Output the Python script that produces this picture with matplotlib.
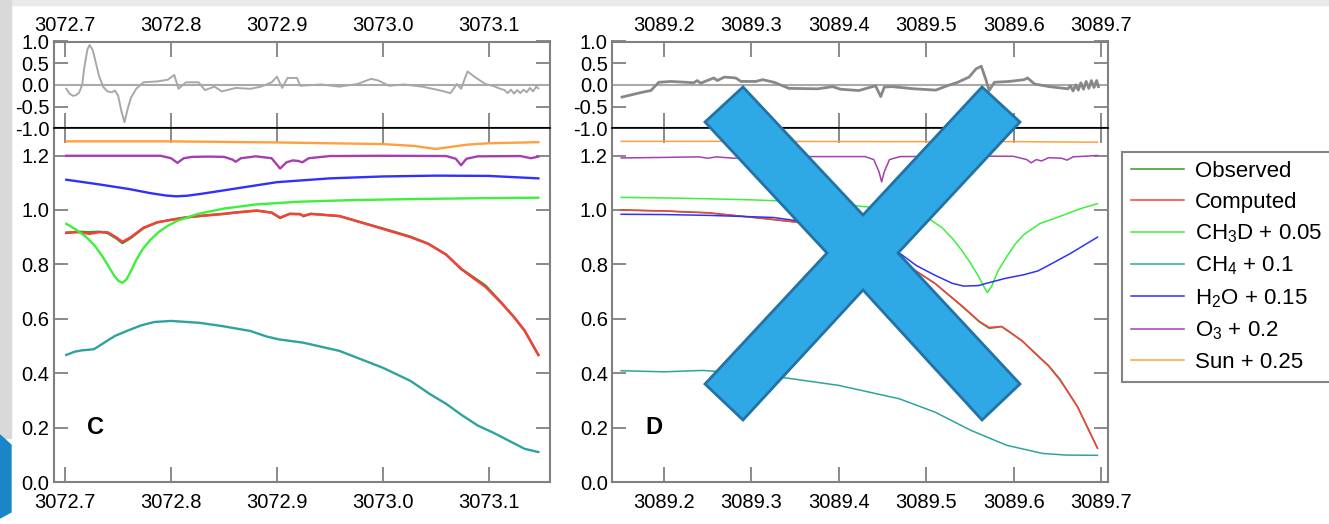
# Spectral fit panels C and D with residuals (slide screenshot look)
import matplotlib.pyplot as plt
from matplotlib.patches import Polygon, Rectangle

plt.rcParams['font.family'] = ['Liberation Sans', 'DejaVu Sans']
plt.rcParams['mathtext.fontset'] = 'custom'
plt.rcParams['mathtext.rm'] = 'Liberation Sans'
plt.rcParams['mathtext.it'] = 'Liberation Sans:italic'
plt.rcParams['axes.unicode_minus'] = False

# ---------------- panel C data ----------------
c_res_x = [3072.701, 3072.704, 3072.707, 3072.710, 3072.713, 3072.716, 3072.718, 3072.721,
           3072.723, 3072.726, 3072.729, 3072.732, 3072.736, 3072.740, 3072.744, 3072.747,
           3072.750, 3072.753, 3072.756, 3072.759, 3072.762, 3072.767, 3072.774, 3072.787,
           3072.797, 3072.803, 3072.807, 3072.814, 3072.826, 3072.832, 3072.841, 3072.848,
           3072.861, 3072.875, 3072.885, 3072.895, 3072.900, 3072.905, 3072.910, 3072.919,
           3072.922, 3072.942, 3072.959, 3072.976, 3072.989, 3072.996, 3073.006, 3073.020,
           3073.037, 3073.053, 3073.064, 3073.070, 3073.074, 3073.080, 3073.087, 3073.097,
           3073.105, 3073.110, 3073.115, 3073.118, 3073.121, 3073.124, 3073.127, 3073.130,
           3073.133, 3073.136, 3073.139, 3073.142, 3073.145, 3073.147]
c_res = [-0.09, -0.20, -0.25, -0.24, -0.18, 0.00, 0.40, 0.82,
         0.92, 0.80, 0.50, 0.20, -0.05, -0.15, -0.17, -0.13,
         -0.25, -0.60, -0.86, -0.55, -0.30, -0.09, 0.06, 0.08,
         0.12, 0.23, -0.09, 0.06, 0.06, -0.12, -0.04, -0.15,
         -0.07, -0.09, -0.04, 0.06, 0.19, -0.07, 0.16, 0.16,
         -0.02, 0.01, -0.04, 0.02, 0.14, 0.10, -0.02, 0.01,
         -0.04, -0.12, -0.19, 0.02, -0.09, 0.31, 0.18, 0.02,
         -0.03, -0.08, -0.12, -0.19, -0.11, -0.20, -0.12, -0.19,
         -0.11, -0.17, -0.07, -0.15, -0.04, -0.08]

c_x = [3072.701, 3072.712, 3072.723, 3072.732, 3072.740, 3072.748, 3072.754, 3072.762,
       3072.774, 3072.787, 3072.800, 3072.814, 3072.828, 3072.841, 3072.850, 3072.861,
       3072.881, 3072.895, 3072.903, 3072.912, 3072.922, 3072.925, 3072.932, 3072.959,
       3073.000, 3073.026, 3073.043, 3073.060, 3073.074, 3073.080, 3073.097, 3073.111,
       3073.124, 3073.134, 3073.147]
c_observed = [0.915, 0.920, 0.918, 0.920, 0.915, 0.896, 0.878, 0.897, 0.933, 0.954, 0.964,
              0.973, 0.978, 0.983, 0.986, 0.991, 0.998, 0.990, 0.970, 0.986, 0.985, 0.977,
              0.986, 0.977, 0.932, 0.902, 0.876, 0.836, 0.782, 0.768, 0.722, 0.664, 0.606,
              0.556, 0.467]
c_computed = [0.917, 0.918, 0.912, 0.918, 0.918, 0.900, 0.883, 0.900, 0.935, 0.955, 0.963,
              0.972, 0.978, 0.982, 0.985, 0.990, 0.997, 0.990, 0.972, 0.985, 0.984, 0.978,
              0.985, 0.978, 0.930, 0.900, 0.875, 0.835, 0.785, 0.765, 0.717, 0.662, 0.606,
              0.557, 0.467]

c_ch3d_x = [3072.701, 3072.710, 3072.720, 3072.728, 3072.735, 3072.741, 3072.746, 3072.750,
            3072.754, 3072.758, 3072.762, 3072.767, 3072.773, 3072.780, 3072.788, 3072.797,
            3072.806, 3072.825, 3072.850, 3072.880, 3072.920, 3072.970, 3073.030, 3073.090,
            3073.147]
c_ch3d = [0.949, 0.928, 0.900, 0.868, 0.830, 0.792, 0.760, 0.740, 0.732, 0.745, 0.775,
          0.815, 0.855, 0.888, 0.918, 0.942, 0.960, 0.985, 1.005, 1.020, 1.030, 1.036,
          1.040, 1.043, 1.045]

c_ch4_x = [3072.701, 3072.709, 3072.716, 3072.722, 3072.727, 3072.732, 3072.738, 3072.747,
           3072.760, 3072.772, 3072.784, 3072.800, 3072.827, 3072.850, 3072.875, 3072.890,
           3072.902, 3072.925, 3072.959, 3073.000, 3073.026, 3073.045, 3073.060, 3073.075,
           3073.090, 3073.105, 3073.120, 3073.134, 3073.147]
c_ch4 = [0.467, 0.479, 0.484, 0.486, 0.488, 0.500, 0.515, 0.537, 0.558, 0.576, 0.588,
         0.592, 0.585, 0.572, 0.555, 0.535, 0.524, 0.512, 0.482, 0.420, 0.372, 0.322,
         0.287, 0.245, 0.207, 0.180, 0.150, 0.122, 0.110]

c_h2o_x = [3072.701, 3072.730, 3072.760, 3072.780, 3072.795, 3072.805, 3072.815, 3072.830,
           3072.860, 3072.900, 3072.950, 3073.000, 3073.050, 3073.100, 3073.147]
c_h2o = [1.111, 1.095, 1.077, 1.062, 1.053, 1.050, 1.052, 1.060, 1.078, 1.102, 1.116,
         1.123, 1.126, 1.125, 1.116]

c_o3_x = [3072.701, 3072.790, 3072.800, 3072.806, 3072.812, 3072.820, 3072.835, 3072.850,
          3072.858, 3072.861, 3072.866, 3072.880, 3072.895, 3072.903, 3072.909, 3072.915,
          3072.920, 3072.924, 3072.930, 3072.950, 3073.000, 3073.060, 3073.069, 3073.074,
          3073.079, 3073.090, 3073.130, 3073.140, 3073.147]
c_o3 = [1.199, 1.199, 1.190, 1.173, 1.190, 1.195, 1.196, 1.195, 1.185, 1.177, 1.190,
        1.197, 1.190, 1.152, 1.175, 1.182, 1.180, 1.175, 1.190, 1.198, 1.199, 1.198,
        1.188, 1.164, 1.188, 1.197, 1.198, 1.190, 1.196]

c_sun_x = [3072.701, 3072.800, 3072.900, 3073.000, 3073.030, 3073.050, 3073.065, 3073.080,
           3073.100, 3073.147]
c_sun = [1.252, 1.252, 1.248, 1.242, 1.235, 1.224, 1.232, 1.240, 1.245, 1.249]

# ---------------- panel D data ----------------
d_res_x = [3089.152, 3089.175, 3089.185, 3089.194, 3089.208, 3089.234, 3089.238, 3089.242,
           3089.257, 3089.261, 3089.269, 3089.282, 3089.288, 3089.305, 3089.313, 3089.326,
           3089.343, 3089.376, 3089.393, 3089.402, 3089.423, 3089.442, 3089.448, 3089.452,
           3089.461, 3089.486, 3089.511, 3089.524, 3089.536, 3089.549, 3089.557, 3089.563,
           3089.568, 3089.572, 3089.578, 3089.595, 3089.612, 3089.616, 3089.624, 3089.641,
           3089.662, 3089.665, 3089.668, 3089.671, 3089.674, 3089.677, 3089.680, 3089.683,
           3089.686, 3089.689, 3089.692, 3089.695, 3089.697]
d_res = [-0.28, -0.17, -0.13, 0.06, 0.08, 0.05, 0.10, 0.04,
         0.16, 0.10, 0.18, 0.16, 0.08, 0.08, 0.12, 0.06,
         -0.08, -0.09, -0.04, -0.10, -0.13, -0.02, -0.27, -0.05,
         -0.04, -0.09, -0.12, -0.02, 0.06, 0.18, 0.37, 0.43,
         0.14, -0.13, 0.06, 0.08, 0.12, 0.16, 0.02, -0.04,
         -0.09, -0.02, -0.14, 0.00, -0.12, 0.05, -0.10, 0.08,
         -0.08, 0.10, -0.06, 0.10, -0.04]

d_x = [3089.151, 3089.180, 3089.203, 3089.218, 3089.250, 3089.285, 3089.320, 3089.352,
       3089.400, 3089.440, 3089.470, 3089.481, 3089.510, 3089.540, 3089.561, 3089.572,
       3089.580, 3089.586, 3089.592, 3089.610, 3089.624, 3089.640, 3089.653, 3089.673,
       3089.696]
d_observed = [1.000, 0.997, 0.996, 0.993, 0.989, 0.978, 0.966, 0.955, 0.920, 0.862, 0.815,
              0.790, 0.730, 0.648, 0.588, 0.565, 0.568, 0.571, 0.558, 0.518, 0.476, 0.428,
              0.378, 0.278, 0.124]
d_computed = [1.000, 0.998, 0.996, 0.994, 0.990, 0.978, 0.967, 0.955, 0.920, 0.860, 0.815,
              0.791, 0.730, 0.650, 0.590, 0.568, 0.570, 0.572, 0.560, 0.518, 0.474, 0.426,
              0.375, 0.277, 0.124]

d_ch3d_x = [3089.151, 3089.200, 3089.250, 3089.300, 3089.350, 3089.400, 3089.450, 3089.480,
            3089.502, 3089.518, 3089.530, 3089.541, 3089.551, 3089.560, 3089.566, 3089.570,
            3089.575, 3089.582, 3089.592, 3089.602, 3089.612, 3089.630, 3089.653, 3089.675,
            3089.696]
d_ch3d = [1.046, 1.044, 1.041, 1.037, 1.031, 1.022, 1.005, 0.990, 0.970, 0.935, 0.895,
          0.850, 0.803, 0.755, 0.718, 0.696, 0.720, 0.775, 0.828, 0.875, 0.910, 0.950,
          0.976, 1.003, 1.023]

d_ch4_x = [3089.151, 3089.200, 3089.244, 3089.290, 3089.334, 3089.400, 3089.469, 3089.510,
           3089.551, 3089.592, 3089.633, 3089.660, 3089.696]
d_ch4 = [0.409, 0.405, 0.410, 0.400, 0.385, 0.355, 0.306, 0.257, 0.190, 0.135, 0.105,
         0.099, 0.098]

d_h2o_x = [3089.151, 3089.200, 3089.250, 3089.300, 3089.326, 3089.352, 3089.400, 3089.440,
           3089.470, 3089.489, 3089.510, 3089.530, 3089.543, 3089.560, 3089.571, 3089.590,
           3089.612, 3089.628, 3089.645, 3089.665, 3089.696]
d_h2o = [0.984, 0.983, 0.980, 0.975, 0.972, 0.960, 0.930, 0.880, 0.840, 0.795, 0.760,
         0.730, 0.720, 0.722, 0.732, 0.748, 0.762, 0.776, 0.805, 0.840, 0.900]

d_o3_x = [3089.151, 3089.200, 3089.240, 3089.250, 3089.260, 3089.280, 3089.300, 3089.350,
          3089.430, 3089.440, 3089.446, 3089.449, 3089.452, 3089.458, 3089.470, 3089.550,
          3089.600, 3089.615, 3089.620, 3089.626, 3089.632, 3089.640, 3089.655, 3089.661,
          3089.668, 3089.696]
d_o3 = [1.191, 1.193, 1.195, 1.190, 1.195, 1.190, 1.195, 1.196, 1.196, 1.185, 1.140,
        1.103, 1.140, 1.185, 1.196, 1.198, 1.197, 1.185, 1.173, 1.185, 1.180, 1.192,
        1.190, 1.183, 1.195, 1.200]

d_sun_x = [3089.151, 3089.300, 3089.450, 3089.600, 3089.696]
d_sun = [1.252, 1.252, 1.251, 1.251, 1.249]

labels = ['Observed', 'Computed', 'CH$_3$D + 0.05', 'CH$_4$ + 0.1',
          'H$_2$O + 0.15', 'O$_3$ + 0.2', 'Sun + 0.25']
colors = ['#2f9a2f', '#ff3b3b', '#3cf03c', '#2ea39d', '#3030ff', '#a43fb0', '#ffa040']

# outline of the blue cross drawn over panel D (figure pixels, y from top)
cross_px = [(743, 87), (863, 215), (982, 87), (1020, 122), (898, 253), (1020, 384),
            (982, 420), (863, 290), (743, 420), (705, 384), (827, 253), (705, 122)]

W, H = 1329, 524
fig = plt.figure(figsize=(W / 100, H / 100), dpi=100)

# slide background bits
fig.patches.append(Rectangle((0, 1 - 5 / H), 1, 5 / H, transform=fig.transFigure,
                             color='#e9e9e9', zorder=0))
fig.patches.append(Rectangle((0, 1 - 438 / H), 11 / W, 438 / H, transform=fig.transFigure,
                             color='#d9d9d9', zorder=0))
fig.patches.append(Polygon([(0, 1 - 435 / H), (11 / W, 1 - 445 / H), (11 / W, 1 - 512 / H),
                            (0, 1 - 518 / H)], closed=True, transform=fig.transFigure,
                           color='#1a86c8', zorder=0))

gray = '#808080'
top_b, top_h = 1 - 128.3 / H, 86.8 / H
bot_b, bot_h = 1 - 482 / H, (482 - 128.3) / H


def make_panel(left, width, xlim, xticks, res_x, res, res_color, res_lw, lw, curves, letter):
    ax_r = fig.add_axes([left, top_b, width, top_h])
    ax_b = fig.add_axes([left, bot_b, width, bot_h])

    # residuals
    ax_r.axhline(0, color='#aaaaaa', lw=1.5)
    ax_r.plot(res_x, res, color=res_color, lw=res_lw)
    ax_r.set_ylim(-1, 1)
    ax_r.set_yticks([-1, -0.5, 0, 0.5, 1])
    ax_r.set_yticklabels(['-1.0', '-0.5', '0.0', '0.5', '1.0'])
    ax_r.set_xlim(xlim)
    ax_r.set_xticks(xticks)
    ax_r.set_xticklabels(['%.1f' % t for t in xticks])
    ax_r.tick_params(axis='x', direction='in', top=True, bottom=True, labeltop=True,
                     labelbottom=False, length=11, width=1.3, color=gray, pad=5,
                     labelsize=14.5)
    ax_r.tick_params(axis='y', direction='in', left=True, right=True, length=10, width=1.3,
                     color=gray, pad=3, labelsize=14.5)

    # spectra
    for (xs, ys), col in zip(curves, colors):
        ax_b.plot(xs, ys, color=col, lw=lw)
    ax_b.set_xlim(xlim)
    ax_b.set_ylim(0, 1.3)
    ax_b.set_yticks([0, 0.2, 0.4, 0.6, 0.8, 1.0, 1.2])
    ax_b.set_yticklabels(['0.0', '0.2', '0.4', '0.6', '0.8', '1.0', '1.2'])
    ax_b.set_xticks(xticks)
    ax_b.set_xticklabels(['%.1f' % t for t in xticks])
    ax_b.tick_params(axis='x', direction='in', top=True, bottom=True, length=11, width=1.3,
                     color=gray, pad=8, labelsize=14.5)
    ax_b.tick_params(axis='y', direction='in', left=True, right=True, length=10, width=1.3,
                     color=gray, pad=3, labelsize=14.5)
    ax_b.text(xlim[0] + 0.068 * (xlim[1] - xlim[0]), 0.2, letter, fontsize=17,
              fontweight='bold', va='center')

    for a in (ax_r, ax_b):
        for s in a.spines.values():
            s.set_color(gray)
            s.set_linewidth(1.5)
    ax_r.spines['bottom'].set_color('black')
    ax_b.spines['top'].set_color('black')
    ax_b.spines['top'].set_linewidth(1.2)
    return ax_b


c_curves = [(c_x, c_observed), (c_x, c_computed), (c_ch3d_x, c_ch3d), (c_ch4_x, c_ch4),
            (c_h2o_x, c_h2o), (c_o3_x, c_o3), (c_sun_x, c_sun)]
d_curves = [(d_x, d_observed), (d_x, d_computed), (d_ch3d_x, d_ch3d), (d_ch4_x, d_ch4),
            (d_h2o_x, d_h2o), (d_o3_x, d_o3), (d_sun_x, d_sun)]

make_panel(53.6 / W, (550 - 53.6) / W, (3072.689, 3073.158),
           [3072.7, 3072.8, 3072.9, 3073.0, 3073.1], c_res_x, c_res, '#a8a8a8', 1.4, 1.7,
           c_curves, 'C')
ax_d = make_panel(612 / W, (1108 - 612) / W, (3089.1405, 3089.708),
                  [3089.2, 3089.3, 3089.4, 3089.5, 3089.6, 3089.7], d_res_x, d_res,
                  '#888888', 2.0, 1.1, d_curves, 'D')

# legend box to the right
handles = ax_d.get_lines()
leg = fig.legend(handles, labels, loc='upper left', bbox_to_anchor=(1122 / W, 1 - 152 / H),
                 fontsize=16, frameon=True, fancybox=False, borderaxespad=0,
                 handlelength=2.4, handletextpad=0.5, labelspacing=0.44, borderpad=0.4)
leg.get_frame().set_edgecolor('#666666')
leg.get_frame().set_linewidth(1.5)

# the big blue cross
fig.patches.append(Polygon([(x / W, 1 - y / H) for x, y in cross_px], closed=True,
                           transform=fig.transFigure, facecolor='#2fa9e6',
                           edgecolor='#2272a6', lw=2, zorder=10))

fig.savefig('out.png', dpi=100)
